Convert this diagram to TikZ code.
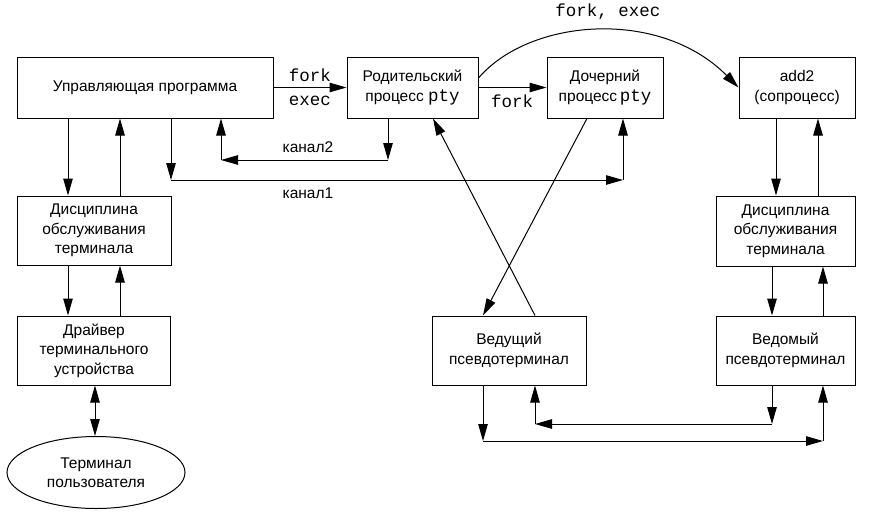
\documentclass[tikz,border=0pt]{standalone}
\usepackage{fontspec}
\setmainfont{Liberation Sans}
\setmonofont{Liberation Mono}
\usetikzlibrary{arrows.meta,shapes.geometric}
\begin{document}
\begin{tikzpicture}[x=1pt,y=-1pt,
  box/.style={draw,line width=1pt,rectangle,align=center,inner sep=0pt,font=\fontsize{15.5}{19.5}\selectfont},
  arr/.style={line width=1pt,-{Triangle[length=17pt,width=9.5pt]}},
  darr/.style={line width=1pt,{Triangle[length=17pt,width=9.5pt]}-{Triangle[length=17pt,width=9.5pt]}},
  lbl/.style={inner sep=0pt,font=\fontsize{15.5}{19.5}\selectfont},
  mlbl/.style={inner sep=0pt,font=\fontsize{17.5}{20}\selectfont\ttfamily}]
\useasboundingbox (0,0) rectangle (876,515);
\newcommand{\pty}{\texttt{\fontsize{17.5}{19.5}\selectfont pty}}
% boxes
\node[box,minimum width=256pt,minimum height=61pt] (ctrl) at (145,87.5) {Управляющая программа};
\node[box,minimum width=131pt,minimum height=61pt] (parent) at (412.5,87.5) {Родительский\\процесс \pty};
\node[box,minimum width=116pt,minimum height=61pt] (child) at (605,87.5) {Дочерний\\процесс\,\pty};
\node[box,minimum width=116pt,minimum height=61pt] (add2) at (797,87.5) {add2\\(сопроцесс)};
\node[box,minimum width=154pt,minimum height=69pt] (discL) at (94,230.5) {Дисциплина\\обслуживания\\терминала};
\node[box,minimum width=153pt,minimum height=69pt] (driver) at (94,350.5) {Драйвер\\терминального\\устройства};
\node[box,ellipse,minimum width=178pt,minimum height=72pt] (term) at (96,472.5) {Терминал\\пользователя};
\node[box,minimum width=139pt,minimum height=70pt] (discR) at (785.5,231) {Дисциплина\\обслуживания\\терминала};
\node[box,minimum width=154pt,minimum height=69pt] (master) at (509,350.5) {Ведущий\\псевдотерминал};
\node[box,minimum width=139pt,minimum height=69pt] (slave) at (785.5,350.5) {Ведомый\\псевдотерминал};
% helper coordinates
\coordinate (x68) at (68,0);
\coordinate (x120) at (120,0);
\coordinate (x95) at (95,0);
\coordinate (x171) at (171,0);
\coordinate (x221) at (221,0);
\coordinate (x388) at (388,0);
\coordinate (x623) at (623,0);
\coordinate (x433) at (433,0);
\coordinate (x587) at (587,0);
\coordinate (x483) at (483,0);
\coordinate (x535) at (535,0);
\coordinate (x776) at (776,0);
\coordinate (x818) at (818,0);
\coordinate (x772) at (772,0);
\coordinate (x823) at (823,0);
\coordinate (k2) at (0,160);
\coordinate (k1) at (0,180);
\coordinate (b1) at (0,424);
\coordinate (b2) at (0,441);
% top row
\draw[arr] (ctrl.east) -- (parent.west);
\node[mlbl] (lfork1) at (310,75) {fork};
\node[mlbl] (lexec1) at (310,101) {exec};
\draw[arr] (parent.east) -- (child.west);
\node[mlbl] (lfork2) at (512,101) {fork};
\draw[arr] ([yshift=9.5pt]parent.east) .. controls (530,18) and (660,8) .. (add2.west);
\node[mlbl] (lforkexec) at (608,12) {fork, exec};
% left column
\draw[arr] (ctrl.south -| x68) -- (discL.north -| x68);
\draw[arr] (discL.north -| x120) -- (ctrl.south -| x120);
\draw[arr] (discL.south -| x68) -- (driver.north -| x68);
\draw[arr] (driver.north -| x120) -- (discL.south -| x120);
\draw[darr] (driver.south -| x95) -- (term.north -| x95);
% kanal2
\draw[arr] (parent.south -| x388) -- (k2 -| x388);
\draw[arr] (k2 -| x388) -- (k2 -| x221);
\draw[arr] (k2 -| x221) -- (ctrl.south -| x221);
\node[lbl] (lk2) at (308,147) {канал2};
% kanal1
\draw[arr] (ctrl.south -| x171) -- (k1 -| x171);
\draw[arr] (k1 -| x171) -- (k1 -| x623);
\draw[arr] (k1 -| x623) -- (child.south -| x623);
\node[lbl] (lk1) at (308,193) {канал1};
% crossing
\draw[arr] (child.south -| x587) -- (master.north -| x483);
\draw[arr] (master.north -| x535) -- (parent.south -| x433);
% right column
\draw[arr] (add2.south -| x776) -- (discR.north -| x776);
\draw[arr] (discR.north -| x818) -- (add2.south -| x818);
\draw[arr] (discR.south -| x772) -- (slave.north -| x772);
\draw[arr] (slave.north -| x823) -- (discR.south -| x823);
% bottom
\draw[arr] (slave.south -| x772) -- (b1 -| x772);
\draw[arr] (b1 -| x772) -- (b1 -| x535);
\draw[arr] (b1 -| x535) -- (master.south -| x535);
\draw[arr] (master.south -| x483) -- (b2 -| x483);
\draw[arr] (b2 -| x483) -- (b2 -| x823);
\draw[arr] (b2 -| x823) -- (slave.south -| x823);
\end{tikzpicture}
\end{document}
